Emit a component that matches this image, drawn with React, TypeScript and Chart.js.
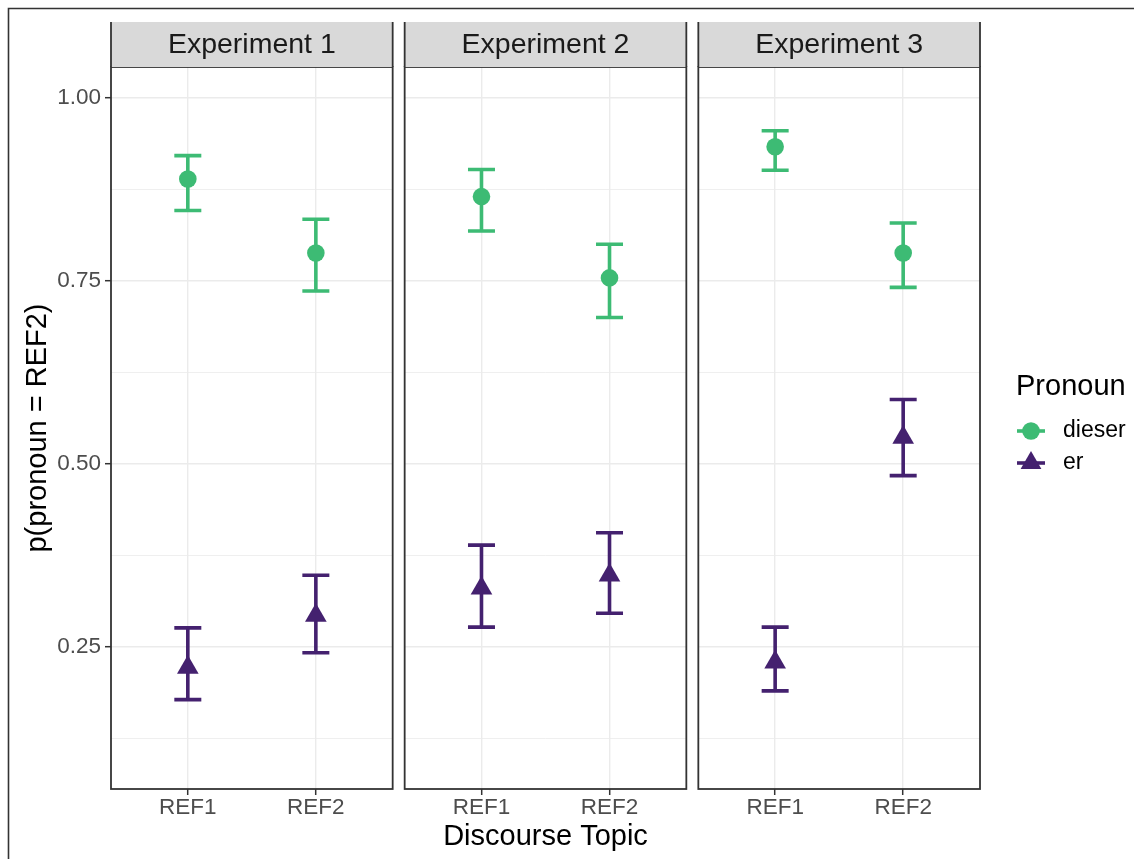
import React, { useEffect, useRef } from 'react';
import { Chart, registerables } from 'chart.js';

Chart.register(...registerables);

// ---------- data ----------
const experiments = ['Experiment 1', 'Experiment 2', 'Experiment 3'];
const topics = ['REF1', 'REF2'];
const seriesNames = ['dieser', 'er'];

// order: Exp1 REF1, Exp1 REF2, Exp2 REF1, Exp2 REF2, Exp3 REF1, Exp3 REF2
const dieserMean = [0.889, 0.788, 0.865, 0.754, 0.933, 0.788];
const dieserLower = [0.846, 0.736, 0.818, 0.700, 0.901, 0.741];
const dieserUpper = [0.921, 0.834, 0.902, 0.800, 0.955, 0.829];

const erMean = [0.222, 0.293, 0.330, 0.348, 0.229, 0.536];
const erLower = [0.178, 0.242, 0.277, 0.296, 0.190, 0.484];
const erUpper = [0.276, 0.348, 0.389, 0.406, 0.277, 0.588];

const yTickValues = [0.125, 0.25, 0.375, 0.5, 0.625, 0.75, 0.875, 1.0];
const yMajorTicks = [0.25, 0.5, 0.75, 1.0];
const yMin = 0.056;
const yMax = 1.042;

// ---------- style ----------
const FONT = '"Liberation Sans", Arial, sans-serif';
const GREEN = '#3DBB74';
const PURPLE = '#44216F';
const colors = [GREEN, PURPLE];
const pointStyles = ['circle', 'triangle'];
const pointRadii = [8.8, 12.5];

// discrete-axis layout (ggplot style expansion, facet gap)
const EXPAND = 0.6;
const GAP = 0.0937;
const SPAN = topics.length - 1 + 2 * EXPAND + GAP;
const xMin = 1 - EXPAND;
const xMax = (experiments.length - 1) * SPAN + topics.length + EXPAND;
const panelLeft = (k: number) => k * SPAN + 1 - EXPAND;
const panelRight = (k: number) => k * SPAN + topics.length + EXPAND;
const xFor = (i: number) => Math.floor(i / topics.length) * SPAN + (i % topics.length) + 1;

const xTickValues = experiments.flatMap((_, p) => topics.map((_, c) => p * SPAN + c + 1));
const xTickLabels = experiments.flatMap(() => topics);

const series = [
  { name: seriesNames[0], mean: dieserMean, lower: dieserLower, upper: dieserUpper },
  { name: seriesNames[1], mean: erMean, lower: erLower, upper: erUpper },
];

const isMajor = (v: number) => yMajorTicks.some((m) => Math.abs(m - v) < 1e-9);

function drawMarker(ctx: CanvasRenderingContext2D, style: string, x: number, y: number, r: number) {
  ctx.beginPath();
  if (style === 'circle') {
    ctx.arc(x, y, r, 0, Math.PI * 2);
  } else {
    let rad = 0;
    ctx.moveTo(x + Math.sin(rad) * r, y - Math.cos(rad) * r);
    rad += (2 * Math.PI) / 3;
    ctx.lineTo(x + Math.sin(rad) * r, y - Math.cos(rad) * r);
    rad += (2 * Math.PI) / 3;
    ctx.lineTo(x + Math.sin(rad) * r, y - Math.cos(rad) * r);
    ctx.closePath();
  }
  ctx.fill();
}

const facetPlugin = {
  id: 'facets',
  beforeDatasetsDraw(chart: any) {
    const { ctx, chartArea, scales } = chart;
    const x = scales.x;
    const y = scales.y;
    ctx.save();
    // blank the gaps between panels
    ctx.fillStyle = '#FFFFFF';
    for (let k = 0; k < experiments.length - 1; k++) {
      const r = x.getPixelForValue(panelRight(k));
      const l = x.getPixelForValue(panelLeft(k + 1));
      ctx.fillRect(r, chartArea.top - 2, l - r, chartArea.bottom - chartArea.top + 4);
    }
    // error bars
    ctx.lineWidth = 3.6;
    ctx.lineCap = 'butt';
    series.forEach((s, si) => {
      ctx.strokeStyle = colors[si];
      s.mean.forEach((_, i) => {
        const px = x.getPixelForValue(xFor(i));
        const lo = y.getPixelForValue(s.lower[i]);
        const hi = y.getPixelForValue(s.upper[i]);
        ctx.beginPath();
        ctx.moveTo(px, lo);
        ctx.lineTo(px, hi);
        ctx.moveTo(px - 13.5, lo);
        ctx.lineTo(px + 13.5, lo);
        ctx.moveTo(px - 13.5, hi);
        ctx.lineTo(px + 13.5, hi);
        ctx.stroke();
      });
    });
    ctx.restore();
  },
  afterDatasetsDraw(chart: any) {
    const { ctx, chartArea, scales } = chart;
    const x = scales.x;
    ctx.save();
    const stripH = 45;
    experiments.forEach((name, k) => {
      const l = x.getPixelForValue(panelLeft(k));
      const r = x.getPixelForValue(panelRight(k));
      // panel border
      ctx.strokeStyle = '#333333';
      ctx.lineWidth = 1.8;
      ctx.strokeRect(l, chartArea.top, r - l, chartArea.bottom - chartArea.top);
      // strip
      ctx.fillStyle = '#D9D9D9';
      ctx.fillRect(l, chartArea.top - stripH, r - l, stripH);
      ctx.beginPath();
      ctx.moveTo(l, chartArea.top);
      ctx.lineTo(l, chartArea.top - stripH);
      ctx.moveTo(r, chartArea.top - stripH);
      ctx.lineTo(r, chartArea.top);
      ctx.stroke();
      ctx.fillStyle = '#1A1A1A';
      ctx.font = `28.5px ${FONT}`;
      ctx.textAlign = 'center';
      ctx.textBaseline = 'middle';
      ctx.fillText(name, (l + r) / 2, chartArea.top - stripH / 2 + 1);
    });
    ctx.restore();
  },
  afterDraw(chart: any) {
    const { ctx, chartArea } = chart;
    ctx.save();
    // legend
    const lx = chartArea.right + 36;
    ctx.fillStyle = '#000000';
    ctx.font = `29px ${FONT}`;
    ctx.textAlign = 'left';
    ctx.textBaseline = 'middle';
    ctx.fillText('Pronoun', lx, 387);
    series.forEach((s, si) => {
      const cy = 431 + si * 32;
      const cx = lx + 15;
      ctx.strokeStyle = colors[si];
      ctx.fillStyle = colors[si];
      ctx.lineWidth = 3.6;
      ctx.beginPath();
      ctx.moveTo(cx - 14, cy);
      ctx.lineTo(cx + 14, cy);
      ctx.stroke();
      drawMarker(ctx, pointStyles[si], cx, cy, si === 0 ? 8.8 : 12);
      ctx.fillStyle = '#000000';
      ctx.font = `23px ${FONT}`;
      ctx.fillText(s.name, lx + 47, cy);
    });
    // outer frame
    ctx.strokeStyle = '#333333';
    ctx.lineWidth = 1.6;
    ctx.beginPath();
    ctx.moveTo(8.5, chart.height);
    ctx.lineTo(8.5, 8.5);
    ctx.lineTo(chart.width, 8.5);
    ctx.stroke();
    ctx.restore();
  },
};

export default function App() {
  const canvasRef = useRef<HTMLCanvasElement | null>(null);

  useEffect(() => {
    if (!canvasRef.current) return;
    Chart.defaults.font.family = FONT;
    const chart = new Chart(canvasRef.current, {
      type: 'scatter',
      data: {
        datasets: series.map((s, si) => ({
          label: s.name,
          data: s.mean.map((m, i) => ({ x: xFor(i), y: m })),
          pointStyle: pointStyles[si] as any,
          pointRadius: pointRadii[si],
          pointHoverRadius: pointRadii[si],
          backgroundColor: colors[si],
          borderColor: colors[si],
          borderWidth: 0,
          showLine: false,
        })),
      },
      options: {
        animation: false,
        responsive: false,
        layout: { padding: { top: 67, right: 154, left: 0, bottom: 0 } },
        plugins: {
          legend: { display: false },
          tooltip: { enabled: false },
        },
        scales: {
          x: {
            type: 'linear',
            min: xMin,
            max: xMax,
            afterBuildTicks: (s: any) => {
              s.ticks = xTickValues.map((v) => ({ value: v }));
            },
            afterFit: (s: any) => {
              s.height = 70;
            },
            ticks: {
              autoSkip: false,
              maxRotation: 0,
              callback: (_v: any, i: number) => xTickLabels[i],
              color: '#4D4D4D',
              font: { family: FONT, size: 22.5, lineHeight: 1 },
              padding: 2,
            },
            grid: {
              color: '#EBEBEB',
              lineWidth: 1.4,
              tickColor: '#333333',
              tickLength: 6,
              tickWidth: 1.5,
            },
            border: { display: false },
            title: {
              display: true,
              text: 'Discourse Topic',
              color: '#000000',
              font: { family: FONT, size: 29, lineHeight: 1.2 },
              padding: { top: 0, bottom: 5 },
            },
          },
          y: {
            type: 'linear',
            min: yMin,
            max: yMax,
            afterBuildTicks: (s: any) => {
              s.ticks = yTickValues.map((v) => ({ value: v }));
            },
            afterFit: (s: any) => {
              s.width = 111;
            },
            ticks: {
              autoSkip: false,
              callback: (v: any) => (isMajor(Number(v)) ? Number(v).toFixed(2) : ''),
              color: '#4D4D4D',
              font: { family: FONT, size: 22.5 },
              padding: 4,
            },
            grid: {
              color: '#EBEBEB',
              lineWidth: (c: any) => (c.tick && isMajor(c.tick.value) ? 1.4 : 0.8),
              tickColor: (c: any) => (c.tick && isMajor(c.tick.value) ? '#333333' : 'rgba(0,0,0,0)'),
              tickLength: 6,
              tickWidth: 1.5,
            },
            border: { display: false },
            title: {
              display: true,
              text: 'p(pronoun = REF2)',
              color: '#000000',
              font: { family: FONT, size: 29, lineHeight: 1.2 },
              padding: { top: 21, bottom: 0 },
            },
          },
        },
      },
      plugins: [facetPlugin],
    });
    return () => chart.destroy();
  }, []);

  return (
    <div style={{ position: 'absolute', left: 0, top: 0, width: 1134, height: 859, background: '#FFFFFF' }}>
      <canvas ref={canvasRef} width={1134} height={859} style={{ width: 1134, height: 859, display: 'block' }} />
    </div>
  );
}
